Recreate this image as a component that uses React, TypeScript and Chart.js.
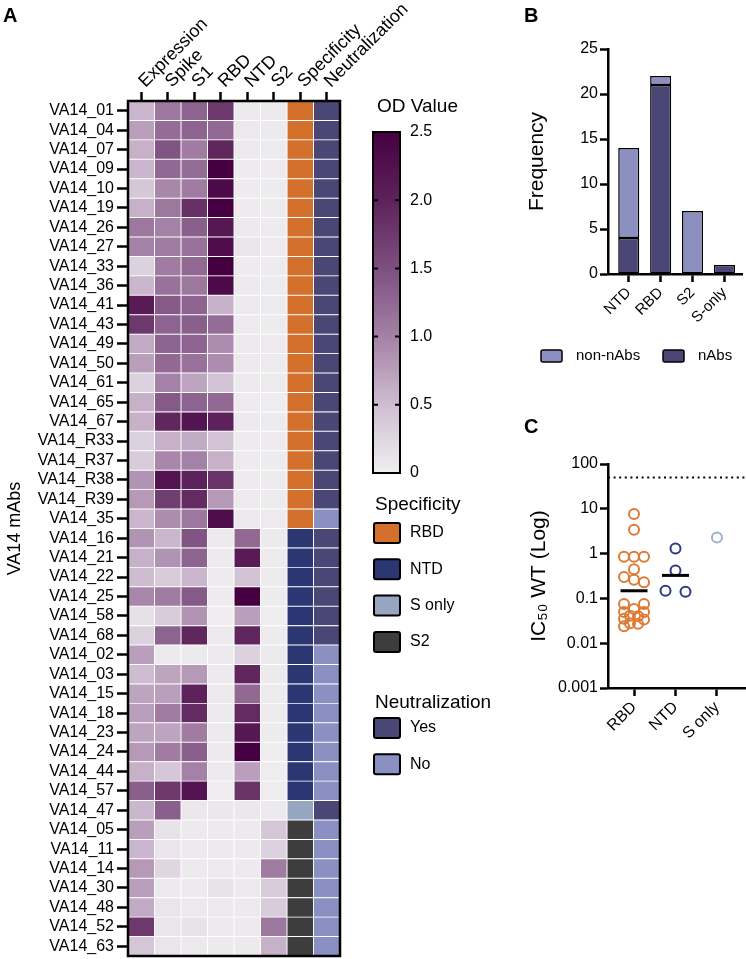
import React, { useEffect, useRef } from 'react';
import { Chart, registerables } from 'chart.js';

Chart.register(...registerables);

const FONT = "'Liberation Sans', Arial, Helvetica, sans-serif";
Chart.defaults.font.family = FONT;
Chart.defaults.color = '#000';

// ---------------- Panel A data ----------------
const rowLabels = [
  'VA14_01', 'VA14_04', 'VA14_07', 'VA14_09', 'VA14_10', 'VA14_19', 'VA14_26', 'VA14_27', 'VA14_33', 'VA14_36',
  'VA14_41', 'VA14_43', 'VA14_49', 'VA14_50', 'VA14_61', 'VA14_65', 'VA14_67', 'VA14_R33', 'VA14_R37', 'VA14_R38',
  'VA14_R39', 'VA14_35', 'VA14_16', 'VA14_21', 'VA14_22', 'VA14_25', 'VA14_58', 'VA14_68', 'VA14_02', 'VA14_03',
  'VA14_15', 'VA14_18', 'VA14_23', 'VA14_24', 'VA14_44', 'VA14_57', 'VA14_47', 'VA14_05', 'VA14_11', 'VA14_14',
  'VA14_30', 'VA14_48', 'VA14_52', 'VA14_63',
];
const columnLabels = ['Expression', 'Spike', 'S1', 'RBD', 'NTD', 'S2', 'Specificity', 'Neutralization'];

const expression = [
  0.55, 0.75, 0.6, 0.55, 0.4, 0.6, 1.1, 1.0, 0.3, 0.55,
  2.1, 1.75, 0.65, 0.75, 0.3, 0.6, 0.6, 0.3, 0.35, 0.85,
  0.8, 0.55, 0.85, 0.6, 0.5, 0.95, 0.15, 0.3, 0.75, 0.5,
  0.7, 0.75, 0.7, 0.8, 0.6, 1.35, 0.55, 0.75, 0.55, 0.8,
  0.75, 0.65, 1.75, 0.4,
];
const spike = [
  1.1, 1.2, 1.45, 1.25, 0.95, 1.1, 1.0, 1.05, 1.05, 1.15,
  1.4, 1.3, 1.3, 1.25, 1.0, 1.4, 1.95, 0.6, 0.95, 2.2,
  1.7, 0.9, 0.55, 0.85, 0.35, 1.05, 0.35, 1.3, 0.05, 0.7,
  0.75, 1.05, 0.7, 1.05, 0.4, 1.75, 1.35, 0.12, 0.1, 0.25,
  0.05, 0.1, 0.1, 0.1,
];
const s1 = [
  1.3, 1.3, 1.05, 1.2, 1.05, 1.85, 1.35, 1.15, 1.25, 1.1,
  1.3, 1.35, 1.3, 1.15, 0.7, 1.3, 2.2, 0.65, 1.0, 2.0,
  1.9, 1.1, 1.45, 1.3, 0.55, 1.4, 0.85, 1.95, 0.05, 0.8,
  2.0, 1.9, 1.05, 1.35, 1.0, 2.2, 0.08, 0.05, 0.05, 0.05,
  0.05, 0.06, 0.12, 0.06,
];
const rbd = [
  1.75, 1.25, 1.95, 2.5, 2.35, 2.5, 2.15, 2.3, 2.5, 2.35,
  0.6, 1.2, 0.9, 0.9, 0.45, 1.25, 2.0, 0.45, 0.6, 1.8,
  0.8, 2.3, 0.05, 0.05, 0.04, 0.04, 0.03, 0.05, 0.05, 0.05,
  0.06, 0.05, 0.05, 0.05, 0.05, 0.03, 0.08, 0.05, 0.05, 0.05,
  0.12, 0.06, 0.06, 0.05,
];
const ntd = [
  0.05, 0.06, 0.05, 0.04, 0.04, 0.04, 0.05, 0.1, 0.04, 0.05,
  0.05, 0.04, 0.05, 0.05, 0.05, 0.04, 0.05, 0.04, 0.04, 0.04,
  0.04, 0.05, 1.25, 2.1, 0.45, 2.5, 0.75, 1.95, 0.3, 1.95,
  1.25, 1.9, 2.15, 2.5, 0.75, 1.8, 0.08, 0.05, 0.05, 0.05,
  0.05, 0.05, 0.05, 0.05,
];
const s2 = [
  0.05, 0.05, 0.04, 0.04, 0.04, 0.04, 0.04, 0.04, 0.04, 0.04,
  0.04, 0.04, 0.04, 0.04, 0.04, 0.03, 0.04, 0.04, 0.04, 0.04,
  0.04, 0.04, 0.05, 0.04, 0.04, 0.04, 0.03, 0.04, 0.05, 0.05,
  0.04, 0.04, 0.04, 0.03, 0.03, 0.03, 0.05, 0.4, 0.3, 1.05,
  0.35, 0.35, 1.1, 0.6,
];
const specificity = [
  'RBD', 'RBD', 'RBD', 'RBD', 'RBD', 'RBD', 'RBD', 'RBD', 'RBD', 'RBD',
  'RBD', 'RBD', 'RBD', 'RBD', 'RBD', 'RBD', 'RBD', 'RBD', 'RBD', 'RBD',
  'RBD', 'RBD', 'NTD', 'NTD', 'NTD', 'NTD', 'NTD', 'NTD', 'NTD', 'NTD',
  'NTD', 'NTD', 'NTD', 'NTD', 'NTD', 'NTD', 'S only', 'S2', 'S2', 'S2',
  'S2', 'S2', 'S2', 'S2',
];
const neutralization = [
  'Yes', 'Yes', 'Yes', 'Yes', 'Yes', 'Yes', 'Yes', 'Yes', 'Yes', 'Yes',
  'Yes', 'Yes', 'Yes', 'Yes', 'Yes', 'Yes', 'Yes', 'Yes', 'Yes', 'Yes',
  'Yes', 'No', 'Yes', 'Yes', 'Yes', 'Yes', 'Yes', 'Yes', 'No', 'No',
  'No', 'No', 'No', 'No', 'No', 'No', 'Yes', 'No', 'No', 'No',
  'No', 'No', 'No', 'No',
];
const odTicks = [0, 0.5, 1, 1.5, 2, 2.5];
const odTickLabels = ['0', '0.5', '1.0', '1.5', '2.0', '2.5'];
const specificityLegend = ['RBD', 'NTD', 'S only', 'S2'];
const neutralizationLegend = ['Yes', 'No'];

// ---------------- Panel B data ----------------
const freqCategories = ['NTD', 'RBD', 'S2', 'S-only'];
const nAbsCounts = [4, 21, 0, 1];
const nonNAbsCounts = [10, 1, 7, 0];
const freqTicks = [0, 5, 10, 15, 20, 25];

// ---------------- Panel C data ----------------
const icCategories = ['RBD', 'NTD', 'S only'];
const rbdIC50 = [7.7, 3.4, 0.85, 0.85, 0.85, 0.45, 0.3, 0.26, 0.23, 0.075, 0.075, 0.058, 0.05, 0.05, 0.041, 0.04, 0.035, 0.034, 0.028, 0.027, 0.024];
const ntdIC50 = [1.3, 0.42, 0.148, 0.14];
const sOnlyIC50 = [2.3];
const icTicks = [0.001, 0.01, 0.1, 1, 10, 100];
const detectionLimit = 50;

// ---------------- styles ----------------
const odMax = 2.5;
const odStops: [number, number[]][] = [
  [0, [240, 239, 241]],
  [0.5, [206, 189, 209]],
  [1, [164, 129, 166]],
  [1.5, [125, 80, 127]],
  [2, [93, 34, 91]],
  [2.5, [70, 0, 65]],
];
const specColors: Record<string, string> = { RBD: '#d3702b', NTD: '#2b3673', 'S only': '#96a5c0', S2: '#3d3d3d' };
const neutColors: Record<string, string> = { Yes: '#4a4676', No: '#8b90c3' };
const NABS = '#4a4676';
const NON_NABS = '#8c90c0';
const groupColors = ['#dd7a35', '#2c3a86', '#9fb0cc'];

function odColor(v: number): string {
  const x = Math.max(0, Math.min(odMax, v));
  for (let i = 0; i < odStops.length - 1; i++) {
    const [a, ca] = odStops[i];
    const [b, cb] = odStops[i + 1];
    if (x <= b) {
      const t = (x - a) / (b - a);
      const c = ca.map((q, k) => Math.round(q + (cb[k] - q) * t));
      return `rgb(${c[0]},${c[1]},${c[2]})`;
    }
  }
  const l = odStops[odStops.length - 1][1];
  return `rgb(${l[0]},${l[1]},${l[2]})`;
}

function boxAt(ctx: CanvasRenderingContext2D, x: number, y: number, w: number, h: number, fill: string, lw: number) {
  ctx.beginPath();
  if ((ctx as any).roundRect) (ctx as any).roundRect(x, y, w, h, 2);
  else ctx.rect(x, y, w, h);
  ctx.fillStyle = fill;
  ctx.fill();
  ctx.lineWidth = lw;
  ctx.strokeStyle = '#000';
  ctx.stroke();
}

function noScalePadding(s: any) {
  s.paddingLeft = 0;
  s.paddingRight = 0;
  s.paddingTop = 0;
  s.paddingBottom = 0;
}

// ---------------- Panel A ----------------
const heatmapDecor = {
  id: 'heatmapDecor',
  afterDatasetsDraw(chart: any) {
    const { ctx, chartArea: a } = chart;
    ctx.save();
    ctx.strokeStyle = '#000';
    ctx.lineWidth = 2.5;
    ctx.strokeRect(a.left, a.top, a.right - a.left, a.bottom - a.top);
    ctx.restore();
  },
  afterDraw(chart: any) {
    const ctx: CanvasRenderingContext2D = chart.ctx;
    ctx.save();
    ctx.fillStyle = '#000';
    ctx.textBaseline = 'middle';
    ctx.textAlign = 'left';
    ctx.font = `bold 20px ${FONT}`;
    ctx.fillText('A', 3, 16);

    ctx.font = `19px ${FONT}`;
    ctx.fillText('OD Value', 377, 107);
    const cb = { x: 373, y: 132, w: 27, h: 341 };
    const g = ctx.createLinearGradient(0, cb.y + cb.h, 0, cb.y);
    odStops.forEach(([v, c]) => g.addColorStop(v / odMax, `rgb(${c[0]},${c[1]},${c[2]})`));
    ctx.fillStyle = g;
    ctx.fillRect(cb.x, cb.y, cb.w, cb.h);
    ctx.lineWidth = 2;
    ctx.strokeStyle = '#000';
    ctx.strokeRect(cb.x, cb.y, cb.w, cb.h);
    ctx.font = `16px ${FONT}`;
    ctx.fillStyle = '#000';
    odTicks.forEach((v, i) => {
      const y = cb.y + cb.h - (v / odMax) * cb.h;
      if (v > 0 && v < odMax) {
        ctx.beginPath();
        ctx.moveTo(cb.x, y);
        ctx.lineTo(cb.x + 5, y);
        ctx.moveTo(cb.x + cb.w - 5, y);
        ctx.lineTo(cb.x + cb.w, y);
        ctx.stroke();
      }
      ctx.fillText(odTickLabels[i], 410, y);
    });

    ctx.font = `19px ${FONT}`;
    ctx.fillText('Specificity', 375, 505);
    specificityLegend.forEach((s, i) => {
      const top = 523 + i * 36.3;
      boxAt(ctx, 374, top, 26, 20, specColors[s], 2);
      ctx.fillStyle = '#000';
      ctx.font = `16px ${FONT}`;
      ctx.fillText(s, 410, top + 10);
    });
    ctx.font = `19px ${FONT}`;
    ctx.fillText('Neutralization', 375, 703);
    neutralizationLegend.forEach((s, i) => {
      const top = 718 + i * 36.3;
      boxAt(ctx, 374, top, 26, 20, neutColors[s], 2);
      ctx.fillStyle = '#000';
      ctx.font = `16px ${FONT}`;
      ctx.fillText(s, 410, top + 10);
    });
    ctx.restore();
  },
};

function HeatmapPanel() {
  const ref = useRef<HTMLCanvasElement>(null);
  useEffect(() => {
    const odData = [expression, spike, s1, rbd, ntd, s2];
    const datasets = columnLabels.map((name, c) => ({
      label: name,
      data: rowLabels.map(() => [c, c + 1]),
      backgroundColor:
        c < 6
          ? odData[c].map(odColor)
          : c === 6
          ? specificity.map((s) => specColors[s])
          : neutralization.map((n) => neutColors[n]),
      borderColor: '#ffffff',
      borderWidth: 0.8,
      borderSkipped: false,
      barPercentage: 1,
      categoryPercentage: 1,
      grouped: false,
    }));
    const chart = new Chart(ref.current as HTMLCanvasElement, {
      type: 'bar',
      data: { labels: rowLabels, datasets: datasets as any },
      plugins: [heatmapDecor],
      options: {
        indexAxis: 'y',
        animation: false,
        responsive: false,
        events: [],
        layout: { autoPadding: false, padding: { left: 0, right: 160, top: 0, bottom: 3 } },
        plugins: { legend: { display: false }, tooltip: { enabled: false } },
        scales: {
          x: {
            type: 'linear',
            position: 'top',
            bounds: 'data',
            min: 0,
            max: columnLabels.length,
            offset: false,
            afterBuildTicks: (s: any) => {
              s.ticks = columnLabels.map((_, i) => ({ value: i + 0.5 }));
            },
            afterFit: (s: any) => {
              s.height = 101;
              noScalePadding(s);
            },
            ticks: {
              autoSkip: false,
              minRotation: 45,
              maxRotation: 45,
              padding: 0,
              labelOffset: 16,
              color: '#000',
              font: { size: 18 },
              callback: (v: any) => columnLabels[Math.floor(Number(v))],
            },
            grid: { drawOnChartArea: false, drawTicks: true, tickLength: 9, tickWidth: 2.5, tickColor: '#000', offset: false },
            border: { display: true, color: '#000', width: 2.5 },
          },
          y: {
            type: 'category',
            position: 'left',
            afterFit: (s: any) => {
              s.width = 128;
              noScalePadding(s);
            },
            ticks: { autoSkip: false, padding: 3, color: '#000', font: { size: 16 } },
            grid: { offset: false, drawOnChartArea: false, drawTicks: true, tickLength: 11, tickWidth: 2.5, tickColor: '#000' },
            border: { display: true, color: '#000', width: 2.5 },
            title: { display: true, text: 'VA14 mAbs', color: '#000', font: { size: 18 }, padding: 4 },
          },
        },
      } as any,
    });
    return () => chart.destroy();
  }, []);
  return <canvas ref={ref} width={500} height={959} style={{ position: 'absolute', left: 0, top: 0, width: 500, height: 959 }} />;
}

// ---------------- Panel B ----------------
const freqDecor = {
  id: 'freqDecor',
  afterDraw(chart: any) {
    const ctx: CanvasRenderingContext2D = chart.ctx;
    ctx.save();
    ctx.fillStyle = '#000';
    ctx.textBaseline = 'middle';
    ctx.textAlign = 'left';
    ctx.font = `bold 20px ${FONT}`;
    ctx.fillText('B', 44, 16);
    const items = [...chart.data.datasets].reverse();
    const xs = [61, 183];
    items.forEach((d: any, i: number) => {
      boxAt(ctx, xs[i], 350, 21, 12, d.backgroundColor, 1.5);
      ctx.fillStyle = '#000';
      ctx.font = `15px ${FONT}`;
      ctx.fillText(d.label, xs[i] + 35, 356);
    });
    ctx.restore();
  },
};

function FrequencyPanel() {
  const ref = useRef<HTMLCanvasElement>(null);
  useEffect(() => {
    const chart = new Chart(ref.current as HTMLCanvasElement, {
      type: 'bar',
      data: {
        datasets: [
          {
            label: 'nAbs',
            data: nAbsCounts.map((v, i) => ({ x: i, y: v })),
            backgroundColor: NABS,
            borderColor: '#000',
            borderWidth: 1.5,
            borderSkipped: false,
            barPercentage: 0.66,
            categoryPercentage: 1,
          },
          {
            label: 'non-nAbs',
            data: nonNAbsCounts.map((v, i) => ({ x: i, y: v })),
            backgroundColor: NON_NABS,
            borderColor: '#000',
            borderWidth: 1.5,
            borderSkipped: false,
            barPercentage: 0.66,
            categoryPercentage: 1,
          },
        ],
      } as any,
      plugins: [freqDecor],
      options: {
        animation: false,
        responsive: false,
        events: [],
        layout: { autoPadding: false, padding: { left: 41, right: 4, top: 49, bottom: 0 } },
        plugins: { legend: { display: false }, tooltip: { enabled: false } },
        scales: {
          x: {
            type: 'linear',
            stacked: true,
            offset: false,
            bounds: 'data',
            min: -0.65,
            max: 3.55,
            afterBuildTicks: (s: any) => {
              s.ticks = freqCategories.map((_, i) => ({ value: i }));
            },
            afterFit: (s: any) => {
              s.height = 96;
              noScalePadding(s);
            },
            ticks: {
              autoSkip: false,
              minRotation: 45,
              maxRotation: 45,
              padding: 2,
              color: '#000',
              font: { size: 15 },
              callback: (v: any) => freqCategories[Number(v)] ?? '',
            },
            grid: { offset: false, drawOnChartArea: false, drawTicks: true, tickLength: 8, tickWidth: 2.5, tickColor: '#000' },
            border: { display: true, color: '#000', width: 2.5 },
          },
          y: {
            type: 'linear',
            stacked: true,
            bounds: 'data',
            min: 0,
            max: 25,
            afterBuildTicks: (s: any) => {
              s.ticks = freqTicks.map((v) => ({ value: v }));
            },
            afterFit: (s: any) => {
              s.width = 87;
              noScalePadding(s);
            },
            ticks: { padding: 2, color: '#000', font: { size: 16 } },
            grid: { drawOnChartArea: false, drawTicks: true, tickLength: 8, tickWidth: 2.5, tickColor: '#000' },
            border: { display: true, color: '#000', width: 2.5 },
            title: { display: true, text: 'Frequency', color: '#000', font: { size: 21 }, padding: 4 },
          },
        },
      } as any,
    });
    return () => chart.destroy();
  }, []);
  return <canvas ref={ref} width={266} height={370} style={{ position: 'absolute', left: 480, top: 0, width: 266, height: 370 }} />;
}

// ---------------- Panel C ----------------
const PX_PER_UNIT = 41.5;
const PX_PER_DECADE = 44.8;
const SWARM_STEP = 10;
const SWARM_MIN_DIST = 8;
const SWARM_PATTERNS: Record<number, number[][]> = {
  1: [[0], [-1], [1], [-0.5], [0.5]],
  2: [[-1, 1], [-0.4, 0.4]],
  3: [[0, -1, 1], [0, -0.6, 0.6]],
};

// Beeswarm: points of (almost) equal value share a symmetric row; rows are shifted to avoid overlap.
function swarm(values: number[], center: number) {
  const yOf = (v: number) => Math.log10(v) * PX_PER_DECADE;
  const order = values.map((_, i) => i).sort((a, b) => values[b] - values[a]);
  const rows: number[][] = [];
  for (const i of order) {
    const row = rows[rows.length - 1];
    if (row && row.length < 3 && Math.abs(yOf(values[row[0]]) - yOf(values[i])) <= 1.5) row.push(i);
    else rows.push([i]);
  }
  const placed: { x: number; y: number }[] = [];
  const out: { x: number; y: number }[] = new Array(values.length);
  for (const row of rows) {
    const pats = SWARM_PATTERNS[row.length];
    let best = pats[0];
    let bestScore = -Infinity;
    for (const pat of pats) {
      let minD = Infinity;
      row.forEach((idx, k) => {
        const xp = pat[k] * SWARM_STEP;
        const yp = yOf(values[idx]);
        for (const p of placed) minD = Math.min(minD, Math.hypot(p.x - xp, p.y - yp));
      });
      if (minD >= SWARM_MIN_DIST) {
        best = pat;
        break;
      }
      if (minD > bestScore) {
        bestScore = minD;
        best = pat;
      }
    }
    row.forEach((idx, k) => {
      placed.push({ x: best[k] * SWARM_STEP, y: yOf(values[idx]) });
      out[idx] = { x: center + (best[k] * SWARM_STEP) / PX_PER_UNIT, y: values[idx] };
    });
  }
  return out;
}

function geoMean(arr: number[]) {
  return Math.pow(10, arr.reduce((s, v) => s + Math.log10(v), 0) / arr.length);
}

const icDecor = {
  id: 'icDecor',
  afterDraw(chart: any) {
    const ctx: CanvasRenderingContext2D = chart.ctx;
    ctx.save();
    ctx.fillStyle = '#000';
    ctx.textBaseline = 'middle';
    ctx.textAlign = 'left';
    ctx.font = `bold 20px ${FONT}`;
    ctx.fillText('C', 44, 27);
    ctx.restore();
  },
};

function IC50Panel() {
  const ref = useRef<HTMLCanvasElement>(null);
  useEffect(() => {
    const xMin = -0.627;
    const xMax = 2.7;
    const groups = [rbdIC50, ntdIC50, sOnlyIC50];
    const pointSets = groups.map((g, i) => ({
      label: icCategories[i],
      data: swarm(g, i),
      pointStyle: 'circle',
      pointRadius: 5,
      pointBorderWidth: 2,
      pointBorderColor: groupColors[i],
      pointBackgroundColor: 'rgba(0,0,0,0)',
      showLine: false,
      order: 2,
    }));
    const means = groups
      .map((g, i) => ({ g, i }))
      .filter(({ g }) => g.length > 1)
      .map(({ g, i }) => ({ x: i, y: geoMean(g) }));
    const chart = new Chart(ref.current as HTMLCanvasElement, {
      type: 'scatter',
      data: {
        datasets: [
          ...pointSets,
          {
            label: 'mean',
            data: means,
            pointStyle: 'line',
            pointRadius: 13.5,
            pointBorderWidth: 3,
            pointBorderColor: '#000',
            showLine: false,
            order: 1,
          },
          {
            label: 'limit',
            data: [
              { x: xMin, y: detectionLimit },
              { x: xMax, y: detectionLimit },
            ],
            showLine: true,
            borderColor: '#000',
            borderWidth: 2.2,
            borderDash: [2, 3.6],
            pointRadius: 0,
            order: 3,
          },
        ],
      } as any,
      plugins: [icDecor],
      options: {
        animation: false,
        responsive: false,
        events: [],
        layout: { autoPadding: false, padding: { left: 43, right: 0, top: 64, bottom: 0 } },
        plugins: { legend: { display: false }, tooltip: { enabled: false } },
        scales: {
          x: {
            type: 'linear',
            bounds: 'data',
            min: xMin,
            max: xMax,
            offset: false,
            afterBuildTicks: (s: any) => {
              s.ticks = icCategories.map((_, i) => ({ value: i }));
            },
            afterFit: (s: any) => {
              s.height = 271;
              noScalePadding(s);
            },
            ticks: {
              autoSkip: false,
              minRotation: 45,
              maxRotation: 45,
              padding: 2,
              color: '#000',
              font: { size: 16 },
              callback: (v: any) => icCategories[Number(v)] ?? '',
            },
            grid: { offset: false, drawOnChartArea: false, drawTicks: true, tickLength: 8, tickWidth: 2.5, tickColor: '#000' },
            border: { display: true, color: '#000', width: 2.5 },
          },
          y: {
            type: 'logarithmic',
            bounds: 'data',
            min: 0.001,
            max: 100,
            afterBuildTicks: (s: any) => {
              s.ticks = icTicks.map((v) => ({ value: v }));
            },
            afterFit: (s: any) => {
              s.width = 85;
              noScalePadding(s);
            },
            ticks: { padding: 2, color: '#000', font: { size: 16 }, callback: (v: any) => String(v) },
            grid: { drawOnChartArea: false, drawTicks: true, tickLength: 8, tickWidth: 2.5, tickColor: '#000' },
            border: { display: true, color: '#000', width: 2.5 },
            title: { display: true, text: 'IC₅₀ WT (Log)', color: '#000', font: { size: 21 }, padding: 4 },
          },
        },
      } as any,
    });
    return () => chart.destroy();
  }, []);
  return <canvas ref={ref} width={266} height={559} style={{ position: 'absolute', left: 480, top: 400, width: 266, height: 559 }} />;
}

export default function App() {
  return (
    <div style={{ position: 'absolute', left: 0, top: 0, width: 746, height: 959, background: '#ffffff', overflow: 'hidden' }}>
      <HeatmapPanel />
      <FrequencyPanel />
      <IC50Panel />
    </div>
  );
}
